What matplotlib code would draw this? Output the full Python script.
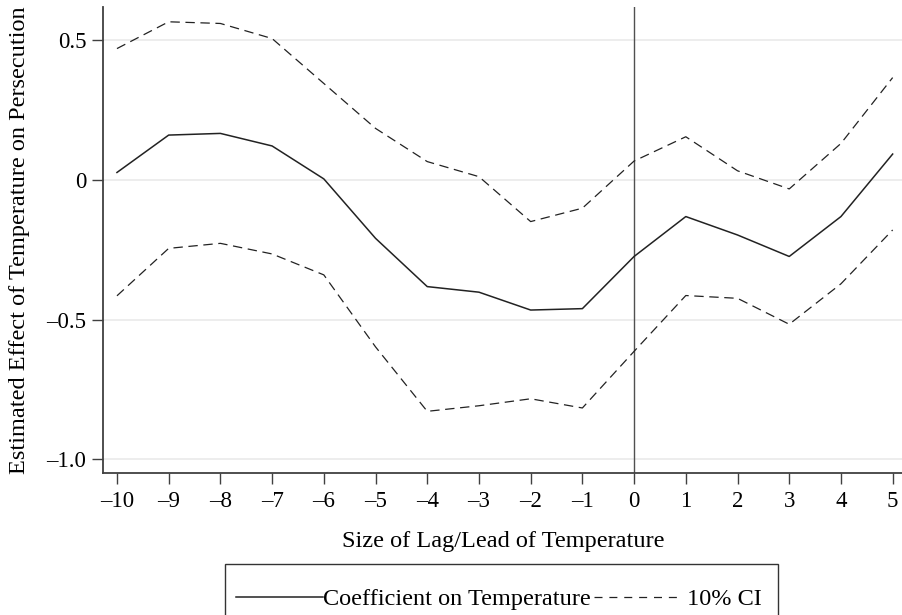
import matplotlib
matplotlib.use("Agg")
import matplotlib.pyplot as plt
from matplotlib.lines import Line2D
from matplotlib.patches import Rectangle

lags = [-10, -9, -8, -7, -6, -5, -4, -3, -2, -1, 0, 1, 2, 3, 4, 5]
coef = [0.027, 0.161, 0.167, 0.122, 0.004, -0.209, -0.382, -0.402, -0.466, -0.461,
        -0.274, -0.131, -0.197, -0.274, -0.131, 0.093]
upper = [0.471, 0.567, 0.561, 0.507, 0.346, 0.185, 0.066, 0.012, -0.149, -0.101,
         0.068, 0.155, 0.033, -0.032, 0.131, 0.367]
lower = [-0.415, -0.245, -0.227, -0.265, -0.340, -0.598, -0.829, -0.809, -0.784, -0.817,
         -0.614, -0.414, -0.424, -0.517, -0.372, -0.179]
xtick_vals = lags
xtick_labels = ["\u201310", "\u20139", "\u20138", "\u20137", "\u20136", "\u20135", "\u20134",
                "\u20133", "\u20132", "\u20131", "0", "1", "2", "3", "4", "5"]
ytick_vals = [0.5, 0.0, -0.5, -1.0]
ytick_labels = ["0.5", "0", "\u20130.5", "\u20131.0"]

plt.rcParams['font.family'] = ['Liberation Serif', 'DejaVu Serif']
fs_tick = 16.5
fs = 17.5

W, H = 903, 615
fig = plt.figure(figsize=(W / 100, H / 100), dpi=100)
ax = fig.add_axes([103 / W, 1 - 473 / H, 1 - 103 / W, (473 - 7) / H])

for y in ytick_vals:
    ax.axhline(y, color='#ececec', lw=1.3, zorder=0)
ax.axvline(0, color='#505050', lw=1.0, zorder=1)

ax.plot(lags, upper, color='#222222', lw=0.9, dashes=(7.5, 4.5), zorder=2)
ax.plot(lags, lower, color='#222222', lw=0.9, dashes=(7.5, 4.5), zorder=2)
ax.plot(lags, coef, color='#222222', lw=1.1, zorder=3)

ax.set_xlim(-10.27, 5.2)
ax.set_ylim(-1.05, 0.62)
ax.set_xticks(xtick_vals)
ax.set_xticklabels(xtick_labels)
ax.set_yticks(ytick_vals)
ax.set_yticklabels(ytick_labels)
ax.tick_params(axis='both', direction='out', length=8, width=1.0, color='#404040',
               labelsize=fs_tick, pad=4)
ax.tick_params(axis='x', pad=5)
for s in ['top', 'right']:
    ax.spines[s].set_visible(False)
for s in ['left', 'bottom']:
    ax.spines[s].set_color('#404040')
    ax.spines[s].set_linewidth(1.3)

ax.set_xlabel("Size of Lag/Lead of Temperature", fontsize=fs, labelpad=14)
ax.set_ylabel("Estimated Effect of Temperature on Persecution", fontsize=fs, labelpad=12)

h1 = Line2D([], [], color='#222222', lw=1.1)
h2 = Line2D([], [], color='#222222', lw=0.9, dashes=(6.4, 5.5))
leg = fig.legend([h1, h2], ["Coefficient on Temperature", " 10% CI"], ncol=2,
                 loc='center left', bbox_to_anchor=(236 / W, 1 - 599 / H),
                 fontsize=fs, frameon=False, handlelength=3.6,
                 handletextpad=0.0, columnspacing=0.1, borderpad=0.0,
                 borderaxespad=0)

fig.canvas.draw()
bb = leg.get_window_extent()
x0 = bb.x0 - 11
x1 = bb.x1 + 16
ytop = H - 564
rect = Rectangle((x0 / W, -0.1), (x1 - x0) / W, ytop / H + 0.1,
                 transform=fig.transFigure, fill=False, edgecolor='#333333',
                 lw=1.0, clip_on=False)
fig.add_artist(rect)

fig.savefig("out.png", dpi=100)
